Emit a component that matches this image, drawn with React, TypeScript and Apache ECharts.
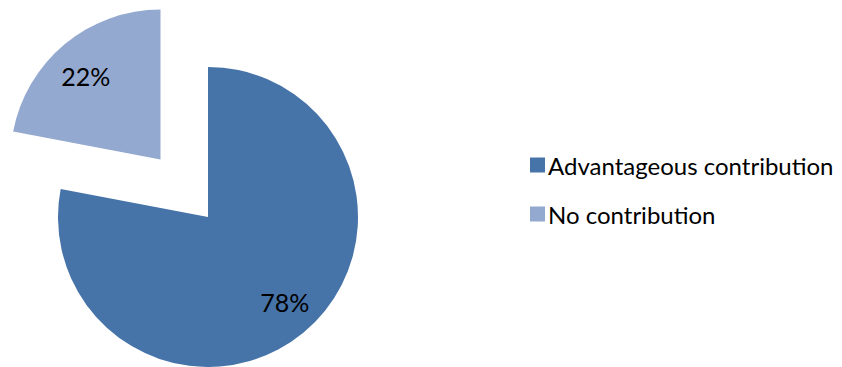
import React, { useEffect, useRef } from "react";
import * as echarts from "echarts";

const categories = ["Advantageous contribution", "No contribution"];
const values = [78, 22];
const colors = ["#4673A8", "#94A9D0"];
const labelTexts = ["78%", "22%"];

const FONT = "Lato, 'Open Sans', sans-serif";

export default function App() {
  const ref = useRef<HTMLDivElement>(null);
  useEffect(() => {
    if (!ref.current) return;
    const chart = echarts.init(ref.current, null, { renderer: "svg" });
    const offsets = [
      [27, 25],
      [-1, -9],
    ];
    chart.setOption({
      animation: false,
      backgroundColor: "#ffffff",
      legend: {
        orient: "vertical",
        left: 525,
        top: 145,
        itemWidth: 15,
        itemHeight: 15,
        itemGap: 19,
        icon: "rect",
        selectedMode: false,
        textStyle: {
          fontFamily: FONT,
          fontSize: 24,
          color: "#000000",
          lineHeight: 30,
          padding: [0, 0, 0, -2],
        },
        data: categories,
      },
      series: [
        {
          type: "pie",
          center: [208, 217],
          radius: 150,
          startAngle: 90,
          clockwise: true,
          selectedMode: "single",
          selectedOffset: 74.5,
          avoidLabelOverlap: false,
          silent: true,
          emphasis: { disabled: true },
          labelLine: { show: false },
          data: categories.map((name, i) => {
            const isSel = i === 1;
            const label = {
              show: true,
              position: "inside",
              formatter: labelTexts[i],
              offset: isSel ? [0, 0] : offsets[i],
              fontFamily: FONT,
              fontSize: 25,
              color: "#000000",
            };
            return {
              name,
              value: values[i],
              selected: isSel,
              itemStyle: { color: colors[i] },
              label,
              select: {
                label: { ...label, offset: offsets[i] },
                itemStyle: { color: colors[i] },
              },
            };
          }),
        },
      ],
    });
    return () => chart.dispose();
  }, []);
  return (
    <div
      ref={ref}
      style={{ position: "fixed", left: 0, top: 0, width: 842, height: 367 }}
    />
  );
}
